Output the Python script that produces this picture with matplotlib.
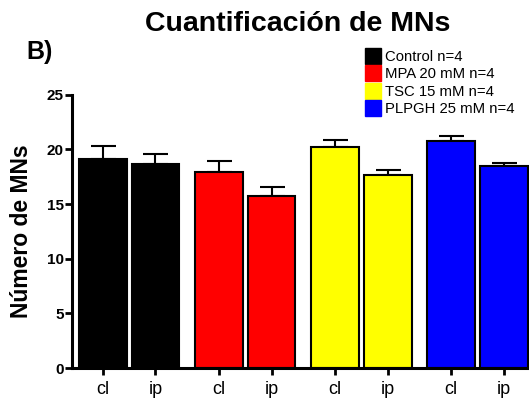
import matplotlib.pyplot as plt
from matplotlib.lines import Line2D

plt.rcParams['font.family'] = ['Liberation Sans', 'DejaVu Sans']

# Data
groups = ["Control n=4", "MPA 20 mM n=4", "TSC 15 mM n=4", "PLPGH 25 mM n=4"]
colors = ["#000000", "#ff0000", "#ffff00", "#0000ff"]
sublabels = ["cl", "ip"]
means = [[19.1, 18.65], [17.9, 15.7], [20.25, 17.65], [20.8, 18.45]]
errors = [[1.2, 0.9], [1.0, 0.9], [0.6, 0.45], [0.4, 0.35]]

fig = plt.figure(figsize=(5.29, 3.98), dpi=100)
ax = fig.add_axes([0.136, 0.075, 0.864, 0.687])

group_step = 2.21
xs, ticklabels = [], []
for g, (name, col) in enumerate(zip(groups, colors)):
    pos = [g * group_step, g * group_step + 1]
    ax.bar(pos, means[g], width=0.91, color=col, edgecolor="black", linewidth=1.5, zorder=2)
    ax.errorbar(pos, means[g], yerr=[[0, 0], errors[g]], fmt="none", ecolor="black",
                elinewidth=1.5, capsize=9, capthick=1.5, zorder=1)
    xs += pos
    ticklabels += sublabels

ax.set_xticks(xs)
ax.set_xticklabels(ticklabels, fontsize=13)
ax.set_xlim(-0.59, 8.11)
ax.set_ylim(0, 25)
ax.set_yticks([0, 5, 10, 15, 20, 25])
for lab in ax.get_yticklabels():
    lab.set_fontweight("bold")
    lab.set_fontsize(11)
ax.tick_params(axis="both", direction="out", length=5, width=2)
ax.tick_params(axis="x", pad=4)
ax.tick_params(axis="y", pad=1)
ax.spines["top"].set_visible(False)
ax.spines["right"].set_visible(False)
ax.spines["left"].set_linewidth(2.2)
ax.spines["bottom"].set_linewidth(2.2)
ax.set_ylabel("Número de MNs", fontsize=16.5, fontweight="bold", labelpad=10)

fig.text(0.562, 0.94, "Cuantificación de MNs", ha="center", va="center",
         fontsize=20.5, fontweight="bold")
fig.text(0.05, 0.87, "B)", ha="left", va="center", fontsize=18, fontweight="bold")

handles = [Line2D([], [], marker="s", linestyle="none", markersize=12,
                  markerfacecolor=c, markeredgecolor=c) for c in colors]
fig.legend(handles, groups, loc="upper left", bbox_to_anchor=(0.692, 0.875),
           frameon=False, fontsize=10.7, handlelength=0.9, handletextpad=0.35,
           labelspacing=0.24, borderaxespad=0, borderpad=0)

fig.savefig("out.png", dpi=100)
